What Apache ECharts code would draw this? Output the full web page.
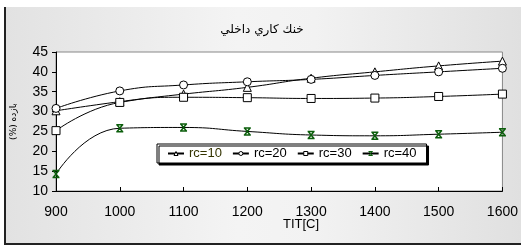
<!DOCTYPE html>
<html>
<head>
<meta charset="utf-8">
<script src="https://cdn.jsdelivr.net/npm/echarts@6/dist/echarts.min.js"></script>
<style>
  html, body { margin: 0; padding: 0; background: #fff; }
  #frame {
    position: absolute; left: 4px; top: 7px; width: 515px; height: 236px;
    border-left: 2px solid #222; border-bottom: 2px solid #222;
    background: linear-gradient(90deg, #e2e2e2 0%, #f4f4f4 45%, #f2f2f2 60%, #e0e0e0 100%);
  }
  #main { position: absolute; left: 0; top: 0; width: 521px; height: 246px; }
</style>
</head>
<body>
<div id="frame"></div>
<div id="main"></div>
<script>
// TIT values on the x axis
const tit = [900, 1000, 1100, 1200, 1300, 1400, 1500, 1600];
// efficiency (%) for each compression ratio
const rc10 = [30.2, 32.5, 34.4, 36.1, 38.4, 40.0, 41.5, 42.7];
const rc20 = [30.8, 35.2, 36.7, 37.5, 38.1, 39.1, 40.0, 40.9];
const rc30 = [25.2, 32.3, 33.6, 33.5, 33.3, 33.4, 33.8, 34.4];
const rc40 = [14.3, 25.8, 26.0, 25.0, 24.1, 23.9, 24.3, 24.8];
const names = ['rc=10', 'rc=20', 'rc=30', 'rc=40'];

const xMark = 'path://M0,0L10,0M0,10L10,10M1,0L9,10M9,0L1,10';
const green = '#0b5e0b';
const hollow = { color: '#fff', borderColor: '#000', borderWidth: 1 };

function pairs(vals) {
    return vals.map((v, i) => [tit[i], v]);
}

function line(name, vals, symbol) {
    return {
        name,
        type: 'line',
        smooth: 0.5,
        smoothMonotone: null,
        data: pairs(vals),
        symbol,
        symbolSize: symbol === xMark ? 7 : 8,
        showAllSymbol: true,
        lineStyle: { color: '#000', width: 1 },
        itemStyle: symbol === xMark
            ? { color: green, borderColor: green, borderWidth: 1.5 }
            : hollow,
        emphasis: { disabled: true }
    };
}

const myChart = echarts.init(document.getElementById('main'), null, { renderer: 'canvas' });
const option = {
    animation: false,
    backgroundColor: 'transparent',
    title: {
        text: 'خنك كاري داخلي',
        left: 257, top: 19, textAlign: 'center',
        textStyle: { fontFamily: 'DejaVu Sans', fontSize: 12, fontWeight: 'normal', color: '#000' }
    },
    grid: {
        left: 56, right: 17, top: 52, bottom: 55,
        show: true, backgroundColor: '#fff', borderColor: '#888', borderWidth: 1
    },
    legend: {
        left: 157, top: 144,
        padding: [3, 10],
        itemGap: 10, itemWidth: 16, itemHeight: 5,
        backgroundColor: '#fff',
        borderColor: '#000', borderWidth: 1, borderRadius: 0,
        shadowColor: '#000', shadowOffsetX: 2, shadowOffsetY: 2, shadowBlur: 0,
        textStyle: { fontFamily: 'Arial, Liberation Sans', fontSize: 13, color: '#000' },
        data: [
            { name: names[0], itemStyle: hollow, textStyle: { color: '#333300' } },
            { name: names[1], itemStyle: hollow },
            { name: names[2], itemStyle: hollow },
            { name: names[3], itemStyle: { color: green, borderColor: green, borderWidth: 1 } }
        ]
    },
    xAxis: {
        type: 'value', min: 900, max: 1600, interval: 100,
        axisLine: { lineStyle: { color: '#000', width: 1 } },
        axisTick: { inside: true, length: 4, lineStyle: { color: '#000' } },
        axisLabel: {
            margin: 14, fontFamily: 'Arial, Liberation Sans', fontSize: 14, color: '#000',
            formatter: v => String(v)
        },
        splitLine: { show: false }
    },
    yAxis: {
        type: 'value', min: 10, max: 45, interval: 5,
        name: '(%) بازده', nameLocation: 'middle', nameGap: 38, nameRotate: 90,
        nameTextStyle: { fontFamily: 'DejaVu Sans', fontSize: 9, color: '#000' },
        axisLine: { show: true, lineStyle: { color: '#000', width: 1 } },
        axisTick: { show: true, length: 4, lineStyle: { color: '#000' } },
        axisLabel: { margin: 8, fontFamily: 'Arial, Liberation Sans', fontSize: 14, color: '#000' },
        splitLine: { show: false }
    },
    graphic: [{
        type: 'text', left: 283, top: 218,
        style: { text: 'TIT[C]', font: '13px Arial, Liberation Sans', fill: '#000' }
    }],
    series: [
        line(names[0], rc10, 'triangle'),
        line(names[1], rc20, 'circle'),
        line(names[2], rc30, 'rect'),
        line(names[3], rc40, xMark)
    ]
};
myChart.setOption(option);
</script>
</body>
</html>
